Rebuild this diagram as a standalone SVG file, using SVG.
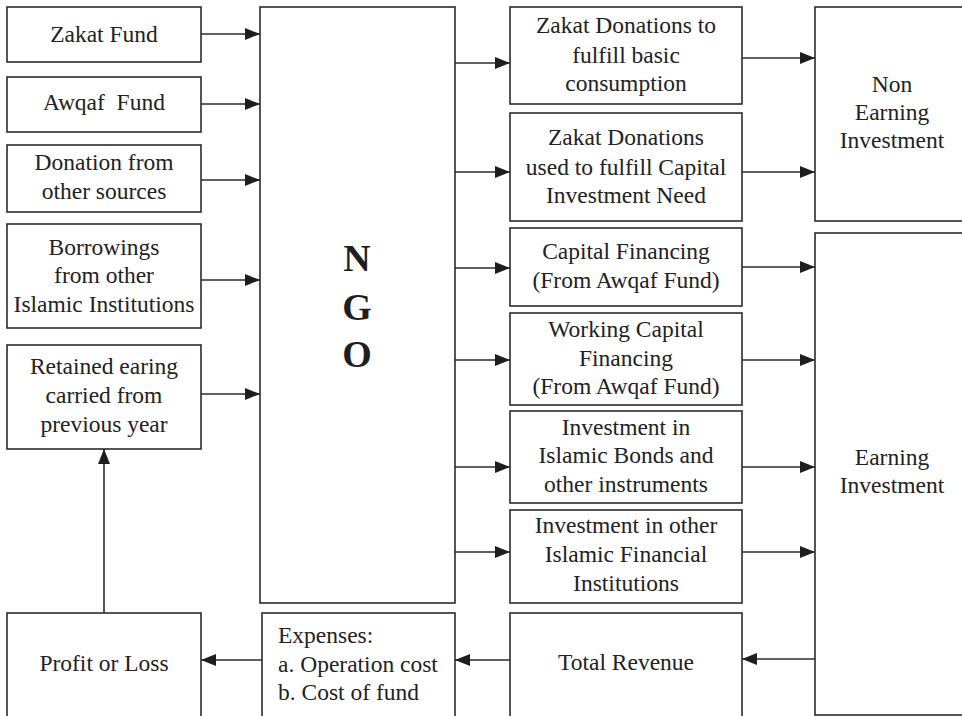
<svg xmlns="http://www.w3.org/2000/svg" width="962" height="716" viewBox="0 0 962 716">
  <style>
    .box { fill: #ffffff; stroke: #2b2b2b; stroke-width: 1.6; }
    .lbl { font-family: "Liberation Serif", "Times New Roman", serif; font-size: 23.5px; fill: #222222; text-anchor: middle; }
    .left { text-anchor: start; }
    .big { font-family: "Liberation Serif", "Times New Roman", serif; font-size: 38px; font-weight: bold; fill: #1e1e1e; text-anchor: middle; }
    .conn { stroke: #2b2b2b; stroke-width: 1.6; fill: none; marker-end: url(#arrow); }
    .plain { stroke: #2b2b2b; stroke-width: 1.6; fill: none; }
  </style>
  <defs>
    <marker id="arrow" markerUnits="userSpaceOnUse" markerWidth="15" markerHeight="12" refX="15" refY="6" orient="auto">
      <path d="M0,0 L15,6 L0,12 Z" fill="#1e1e1e"/>
    </marker>
  </defs>
  <rect width="962" height="716" fill="#ffffff"/>

  <!-- sources of funds -->
  <g id="zakat-fund">
    <rect class="box" x="7" y="7" width="194" height="55"/>
    <text class="lbl" x="104" y="42">Zakat Fund</text>
  </g>
  <g id="awqaf-fund">
    <rect class="box" x="7" y="77" width="194" height="55"/>
    <text class="lbl" x="104" y="110" style="white-space:pre">Awqaf  Fund</text>
  </g>
  <g id="donation">
    <rect class="box" x="7" y="145" width="194" height="67"/>
    <text class="lbl" x="104" y="170">Donation from</text>
    <text class="lbl" x="104" y="199">other sources</text>
  </g>
  <g id="borrowings">
    <rect class="box" x="7" y="224" width="194" height="104"/>
    <text class="lbl" x="104" y="255">Borrowings</text>
    <text class="lbl" x="104" y="283">from other</text>
    <text class="lbl" x="104" y="312">Islamic Institutions</text>
  </g>
  <g id="retained">
    <rect class="box" x="7" y="345" width="194" height="104"/>
    <text class="lbl" x="104" y="374">Retained earing</text>
    <text class="lbl" x="104" y="403">carried from</text>
    <text class="lbl" x="104" y="432">previous year</text>
  </g>
  <g id="profit-loss">
    <rect class="box" x="7" y="613" width="194" height="110"/>
    <text class="lbl" x="104" y="671">Profit or Loss</text>
  </g>

  <!-- central organisation -->
  <g id="ngo">
    <rect class="box" x="260" y="7" width="195" height="596"/>
    <text class="big" x="357" y="271">N</text>
    <text class="big" x="357" y="320">G</text>
    <text class="big" x="357" y="367">O</text>
  </g>
  <g id="expenses">
    <rect class="box" x="262" y="613" width="193" height="110"/>
    <text class="lbl left" x="278" y="643">Expenses:</text>
    <text class="lbl left" x="278" y="672">a. Operation cost</text>
    <text class="lbl left" x="278" y="700">b. Cost of fund</text>
  </g>

  <!-- uses of funds -->
  <g id="zakat-basic">
    <rect class="box" x="510" y="7" width="232" height="97"/>
    <text class="lbl" x="626" y="33">Zakat Donations to</text>
    <text class="lbl" x="626" y="63">fulfill basic</text>
    <text class="lbl" x="626" y="91">consumption</text>
  </g>
  <g id="zakat-capital">
    <rect class="box" x="510" y="113" width="232" height="108"/>
    <text class="lbl" x="626" y="145">Zakat Donations</text>
    <text class="lbl" x="626" y="175">used to fulfill Capital</text>
    <text class="lbl" x="626" y="203">Investment Need</text>
  </g>
  <g id="capital-financing">
    <rect class="box" x="510" y="228" width="232" height="78"/>
    <text class="lbl" x="626" y="259">Capital Financing</text>
    <text class="lbl" x="626" y="288">(From Awqaf Fund)</text>
  </g>
  <g id="working-capital">
    <rect class="box" x="510" y="313" width="232" height="92"/>
    <text class="lbl" x="626" y="337">Working Capital</text>
    <text class="lbl" x="626" y="366">Financing</text>
    <text class="lbl" x="626" y="394">(From Awqaf Fund)</text>
  </g>
  <g id="islamic-bonds">
    <rect class="box" x="510" y="411" width="232" height="92"/>
    <text class="lbl" x="626" y="435">Investment in</text>
    <text class="lbl" x="626" y="463">Islamic Bonds and</text>
    <text class="lbl" x="626" y="492">other instruments</text>
  </g>
  <g id="other-institutions">
    <rect class="box" x="510" y="510" width="232" height="93"/>
    <text class="lbl" x="626" y="533">Investment in other</text>
    <text class="lbl" x="626" y="562">Islamic Financial</text>
    <text class="lbl" x="626" y="591">Institutions</text>
  </g>
  <g id="total-revenue">
    <rect class="box" x="510" y="613" width="232" height="110"/>
    <text class="lbl" x="626" y="670">Total Revenue</text>
  </g>

  <!-- investment categories -->
  <g id="non-earning">
    <rect class="box" x="815" y="7" width="155" height="214"/>
    <text class="lbl" x="892" y="92">Non</text>
    <text class="lbl" x="892" y="120">Earning</text>
    <text class="lbl" x="892" y="148">Investment</text>
  </g>
  <g id="earning">
    <rect class="box" x="815" y="233" width="155" height="482"/>
    <text class="lbl" x="892" y="465">Earning</text>
    <text class="lbl" x="892" y="493">Investment</text>
  </g>

  <!-- connectors -->
  <g id="connectors">
    <line class="conn" x1="201" y1="34" x2="260" y2="34"/>
    <line class="conn" x1="201" y1="104" x2="260" y2="104"/>
    <line class="conn" x1="201" y1="180" x2="260" y2="180"/>
    <line class="conn" x1="201" y1="280" x2="260" y2="280"/>
    <line class="conn" x1="201" y1="394" x2="260" y2="394"/>

    <line class="conn" x1="455" y1="63" x2="510" y2="63"/>
    <line class="conn" x1="455" y1="172" x2="510" y2="172"/>
    <line class="conn" x1="455" y1="268" x2="510" y2="268"/>
    <line class="conn" x1="455" y1="360" x2="510" y2="360"/>
    <line class="conn" x1="455" y1="467" x2="510" y2="467"/>
    <line class="conn" x1="455" y1="552" x2="510" y2="552"/>

    <line class="conn" x1="742" y1="58" x2="815" y2="58"/>
    <line class="conn" x1="742" y1="172" x2="815" y2="172"/>
    <line class="conn" x1="742" y1="267" x2="815" y2="267"/>
    <line class="conn" x1="742" y1="360" x2="815" y2="360"/>
    <line class="conn" x1="742" y1="467" x2="815" y2="467"/>
    <line class="conn" x1="742" y1="552" x2="815" y2="552"/>

    <line class="conn" x1="815" y1="659" x2="742" y2="659"/>
    <line class="conn" x1="510" y1="660" x2="455" y2="660"/>
    <line class="conn" x1="262" y1="660" x2="201" y2="660"/>
    <line class="conn" x1="104" y1="613" x2="104" y2="449"/>
  </g>
</svg>
